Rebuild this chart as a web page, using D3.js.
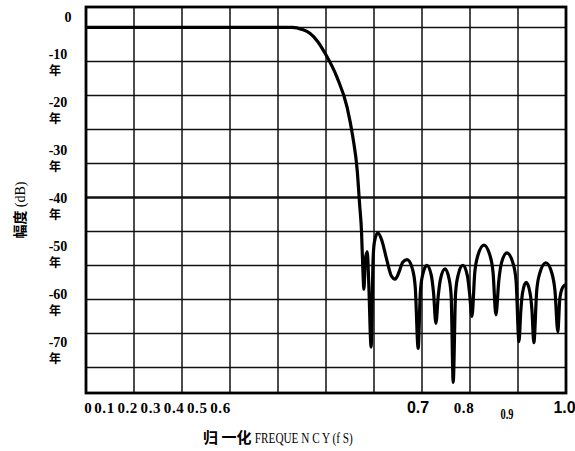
<html>
<head>
<meta charset="utf-8">
<script src="https://d3js.org/d3.v7.min.js"></script>
<style>
body { margin: 0; background: #fff; }
svg { display: block; }
</style>
</head>
<body>
<svg width="575" height="451"></svg>
<script>
// frequency (fS) and magnitude (dB)
var freq = [0, 0.2, 0.43, 0.45, 0.467, 0.483, 0.498, 0.523, 0.544, 0.556, 0.565, 0.570,
  0.574, 0.577, 0.579, 0.582, 0.586, 0.589, 0.594, 0.598, 0.601, 0.608, 0.616, 0.626,
  0.636, 0.644, 0.652, 0.660, 0.669, 0.680, 0.686, 0.692, 0.6965, 0.701, 0.710, 0.7195,
  0.724, 0.729, 0.7338, 0.7385, 0.748, 0.7565, 0.7608, 0.765, 0.770, 0.775, 0.785, 0.7945,
  0.799, 0.804, 0.810, 0.8165, 0.829, 0.8415, 0.848, 0.854, 0.860, 0.8655, 0.877, 0.8895,
  0.896, 0.902, 0.906, 0.9095, 0.917, 0.925, 0.929, 0.933, 0.939, 0.9455, 0.958, 0.9705,
  0.977, 0.983, 0.987, 0.993, 1.0];
var mag = [0, 0, 0, -0.6, -1.8, -4.2, -7.6, -14.7, -23.5, -32.3, -42, -52,
  -60, -72, -77, -68, -66, -75, -94, -68.6, -63, -60.4, -62.5, -68,
  -73, -74, -72, -69, -68.3, -71, -76.5, -94.4, -78, -73, -70, -73,
  -78, -87, -79, -74, -71, -74, -79, -104.4, -78, -73, -70, -73,
  -78, -85, -72, -67, -64, -67, -72, -84.5, -74.5, -69.3, -66.3, -69.3,
  -74.5, -92.4, -83, -78, -75, -78, -83, -92.7, -77.4, -72.2, -69.2, -72.2,
  -77.4, -89.5, -80, -76.5, -75.6];

// grid
var dbGrid = [0, -10, -20, -30, -40, -50, -60, -70, -80, -90, -100];
var fGrid = [0.1, 0.2, 0.3, 0.4, 0.5, 0.6, 0.7, 0.8, 0.9];

// tick labels as printed (they do not sit on the grid)
var yLabels = ["0", "-10", "-20", "-30", "-40", "-50", "-60", "-70"];
var yLabelVals = [0, -10, -20, -30, -40, -50, -60, -70];
var xLabels = ["0", "0.1", "0.2", "0.3", "0.4", "0.5", "0.6", "0.7", "0.8", "0.9", "1.0"];
var xLabelVals = [0, 0.1, 0.2, 0.3, 0.4, 0.5, 0.6, 0.7, 0.8, 0.9, 1.0];

var svg = d3.select("svg");

var x = d3.scaleLinear().domain([0, 1]).range([86, 566]);
var y = d3.scaleLinear().domain([6, -107.5]).range([7, 393]);

// label placement scales
var yLab = d3.scaleLinear().domain([0, -10, -70]).range([19, 56, 344]);
var xLab = d3.scaleLinear().domain([0, 0.1, 0.6, 0.7, 0.8, 0.9, 1.0])
  .range([88, 104.5, 220.5, 418, 464, 507, 564.5]);

var serif = "'Liberation Serif', 'DejaVu Serif', serif";
var sans = "'Liberation Sans', Arial, sans-serif";
var cjk = "'Noto Sans CJK SC', sans-serif";

svg.append("clipPath").attr("id", "plot")
  .append("rect").attr("x", x(0)).attr("y", y(6)).attr("width", x(1) - x(0)).attr("height", y(-107.5) - y(6));

// horizontal grid
svg.selectAll(".hg").data(dbGrid).enter().append("line")
  .attr("x1", x(0)).attr("x2", x(1))
  .attr("y1", function(d){ return y(d); }).attr("y2", function(d){ return y(d); })
  .style("stroke", "#111")
  .style("stroke-width", function(d){ return d == -50 ? 2.6 : 1.5; });

// vertical grid
svg.selectAll(".vg").data(fGrid).enter().append("line")
  .attr("x1", function(d){ return x(d); }).attr("x2", function(d){ return x(d); })
  .attr("y1", y(6)).attr("y2", y(-107.5))
  .style("stroke", "#111").style("stroke-width", 1.5);

// frame
svg.append("rect")
  .attr("x", x(0)).attr("y", y(6)).attr("width", x(1) - x(0)).attr("height", y(-107.5) - y(6))
  .style("fill", "none").style("stroke", "#000").style("stroke-width", 2.8);

// response curve
var pts = freq.map(function(f, i){ return [f, mag[i]]; });
var line = d3.line()
  .x(function(d){ return x(d[0]); })
  .y(function(d){ return y(d[1]); })
  .curve(d3.curveMonotoneX);
svg.append("path").datum(pts)
  .attr("clip-path", "url(#plot)")
  .attr("d", line)
  .style("fill", "none").style("stroke", "#000").style("stroke-width", 3.2)
  .style("stroke-linejoin", "round");

// y labels
yLabels.forEach(function(t, i){
  var v = yLabelVals[i];
  svg.append("text")
    .attr("x", i == 0 ? 68 : 58).attr("y", yLab(v) + 2.5)
    .attr("text-anchor", "middle")
    .style("font-family", serif).style("font-weight", "bold").style("font-size", "14px")
    .text(t);
  if (i > 0) {
    svg.append("text")
      .attr("x", 55).attr("y", yLab(v) + 18.5)
      .attr("text-anchor", "middle")
      .style("font-family", cjk).style("font-weight", "bold").style("font-size", "12px")
      .text("年");
  }
});

// x labels
xLabels.forEach(function(t, i){
  var v = xLabelVals[i];
  var big = (t == "0.7" || t == "1.0");
  var small = (t == "0.9");
  var lab = svg.append("text")
    .attr("x", xLab(v)).attr("y", small ? 419 : 413)
    .attr("text-anchor", "middle")
    .style("font-family", big ? sans : serif).style("font-weight", "bold")
    .style("font-size", big ? "16px" : (small ? "14px" : "15px"))
    .style("letter-spacing", (big || small || i == 0) ? "0px" : "0.6px")
    .text(t);
  if (small) lab.attr("textLength", 13).attr("lengthAdjust", "spacingAndGlyphs");
});

// axis titles
var xt = svg.append("text").attr("x", 203).attr("y", 443)
  .style("font-weight", "bold");
xt.append("tspan").style("font-family", cjk).style("font-size", "15px").text("归 一化 ");
xt.append("tspan").style("font-family", serif).style("font-size", "14px").style("font-weight", "normal")
  .attr("textLength", 98).attr("lengthAdjust", "spacingAndGlyphs")
  .text("FREQUE N C Y (f S)");

var yt = svg.append("text").attr("transform", "translate(25,210) rotate(-90)")
  .attr("text-anchor", "middle");
yt.append("tspan").style("font-family", cjk).style("font-weight", "bold").style("font-size", "14px").text("幅度 ");
yt.append("tspan").style("font-family", serif).style("font-size", "14px").text("(dB)");
</script>
</body>
</html>
